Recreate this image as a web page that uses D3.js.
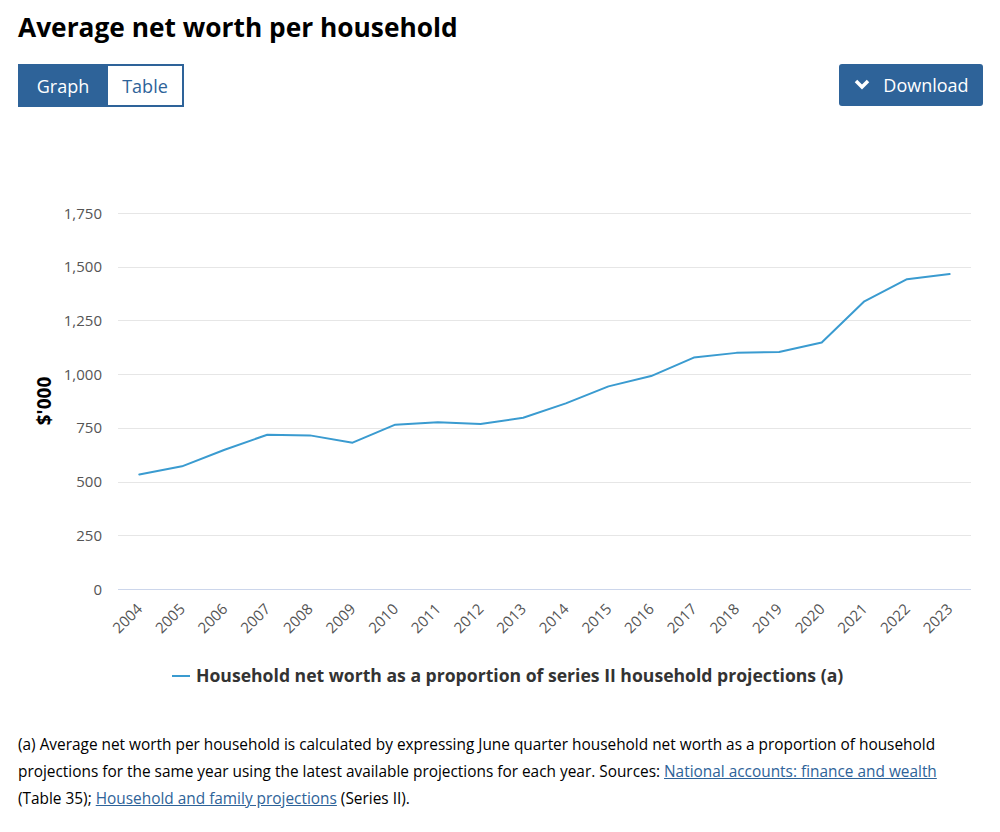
<!DOCTYPE html>
<html><head><meta charset="utf-8">
<script src="https://cdn.jsdelivr.net/npm/d3@7"></script>
<style>
body{margin:0;background:#fff;font-family:"Open Sans",sans-serif;color:#000;}
#wrap{position:relative;width:1000px;height:832px;overflow:hidden;}
.title{position:absolute;left:18px;top:9px;font-size:26.3px;font-weight:700;margin:0;}
.btn{position:absolute;box-sizing:border-box;font-size:18px;display:flex;align-items:center;justify-content:center;}
.foot{position:absolute;left:18px;top:731px;width:945px;font-size:15.4px;line-height:27px;color:#000;}
.foot a{color:#2e6399;text-decoration:underline;}
</style></head>
<body><div id="wrap">
<h1 class="title">Average net worth per household</h1>
<div class="btn" style="left:18px;top:64px;width:90px;height:43px;background:#2e6399;color:#fff;border:2px solid #2e6399;">Graph</div>
<div class="btn" style="left:106px;top:64px;width:78px;height:43px;background:#fff;color:#2e6399;border:2px solid #2e6399;">Table</div>
<div class="btn" style="left:839px;top:64px;width:144px;height:42px;background:#2e6399;color:#fff;border-radius:3px;">
<svg width="18" height="14" style="margin-right:12px"><path d="M3,3 L9,9 L15,3" fill="none" stroke="#fff" stroke-width="3.5"/></svg>Download</div>
<svg id="chart" width="1000" height="720" style="position:absolute;left:0;top:0"></svg>
<div class="foot">(a) Average net worth per household is calculated by expressing June quarter household net worth as a proportion of household projections for the same year using the latest available projections for each year. Sources: <a>National accounts: finance and wealth</a> (Table 35); <a>Household and family projections</a> (Series II).</div>
</div>
<script>
const years = ["2004","2005","2006","2007","2008","2009","2010","2011","2012","2013","2014","2015","2016","2017","2018","2019","2020","2021","2022","2023"];
const netWorth = [533,571,648,718,715,681,765,776,768,797,864,943,991,1077,1099,1103,1147,1339,1442,1466];
const yTicks = [0,250,500,750,1000,1250,1500,1750];
const seriesName = "Household net worth as a proportion of series II household projections (a)";
const yTitle = "$'000";

(function(){
const svg = d3.select("#chart");
const pL = 118, pR = 971, pT = 213, pB = 589;
const x = d3.scaleBand().domain(years).range([pL, pR]);
const y = d3.scaleLinear().domain([0,1750]).range([pB, pT]);

svg.append("g").selectAll("line").data(yTicks).enter().append("line")
  .attr("x1", pL).attr("x2", pR)
  .attr("y1", d=>Math.round(y(d))+0.5).attr("y2", d=>Math.round(y(d))+0.5)
  .attr("stroke", d=> d===0 ? "#ccd6eb" : "#e6e6e6").attr("stroke-width",1);

const ya = svg.append("g").attr("transform", `translate(${pL-16},0)`)
  .call(d3.axisLeft(y).tickValues(yTicks).tickSize(0).tickPadding(0).tickFormat(d3.format(",")));
ya.select(".domain").remove();
ya.selectAll("text").attr("font-family","Open Sans").attr("font-size","15px").attr("fill","#555").attr("dy","0.34em");

const xa = svg.append("g").attr("transform", `translate(0,${pB})`)
  .call(d3.axisBottom(x).tickSize(0).tickPadding(0));
xa.select(".domain").remove();
xa.selectAll("text").attr("font-family","Open Sans").attr("font-size","15px").attr("fill","#555")
  .attr("text-anchor","end").attr("dy",null).attr("y",0)
  .attr("transform","translate(4,21) rotate(-45)");

svg.append("text").attr("transform", `translate(51,401) rotate(-90)`)
  .attr("text-anchor","middle").attr("font-family","Open Sans").attr("font-weight",700)
  .attr("font-size","19px").attr("fill","#000").text(yTitle);

const line = d3.line().x((d,i)=>x(years[i])+x.bandwidth()/2).y(d=>y(d));
svg.append("path").datum(netWorth).attr("d", line).attr("fill","none")
  .attr("stroke","#3a9bd0").attr("stroke-width",2).attr("stroke-linejoin","round").attr("stroke-linecap","round");

svg.append("line").attr("x1",172).attr("x2",190).attr("y1",676).attr("y2",676).attr("stroke","#3a9bd0").attr("stroke-width",2);
svg.append("text").attr("x",196).attr("y",682).attr("font-family","Open Sans").attr("font-weight",700)
  .attr("font-size","17.6px").attr("fill","#333").text(seriesName);
})();
</script></body></html>
